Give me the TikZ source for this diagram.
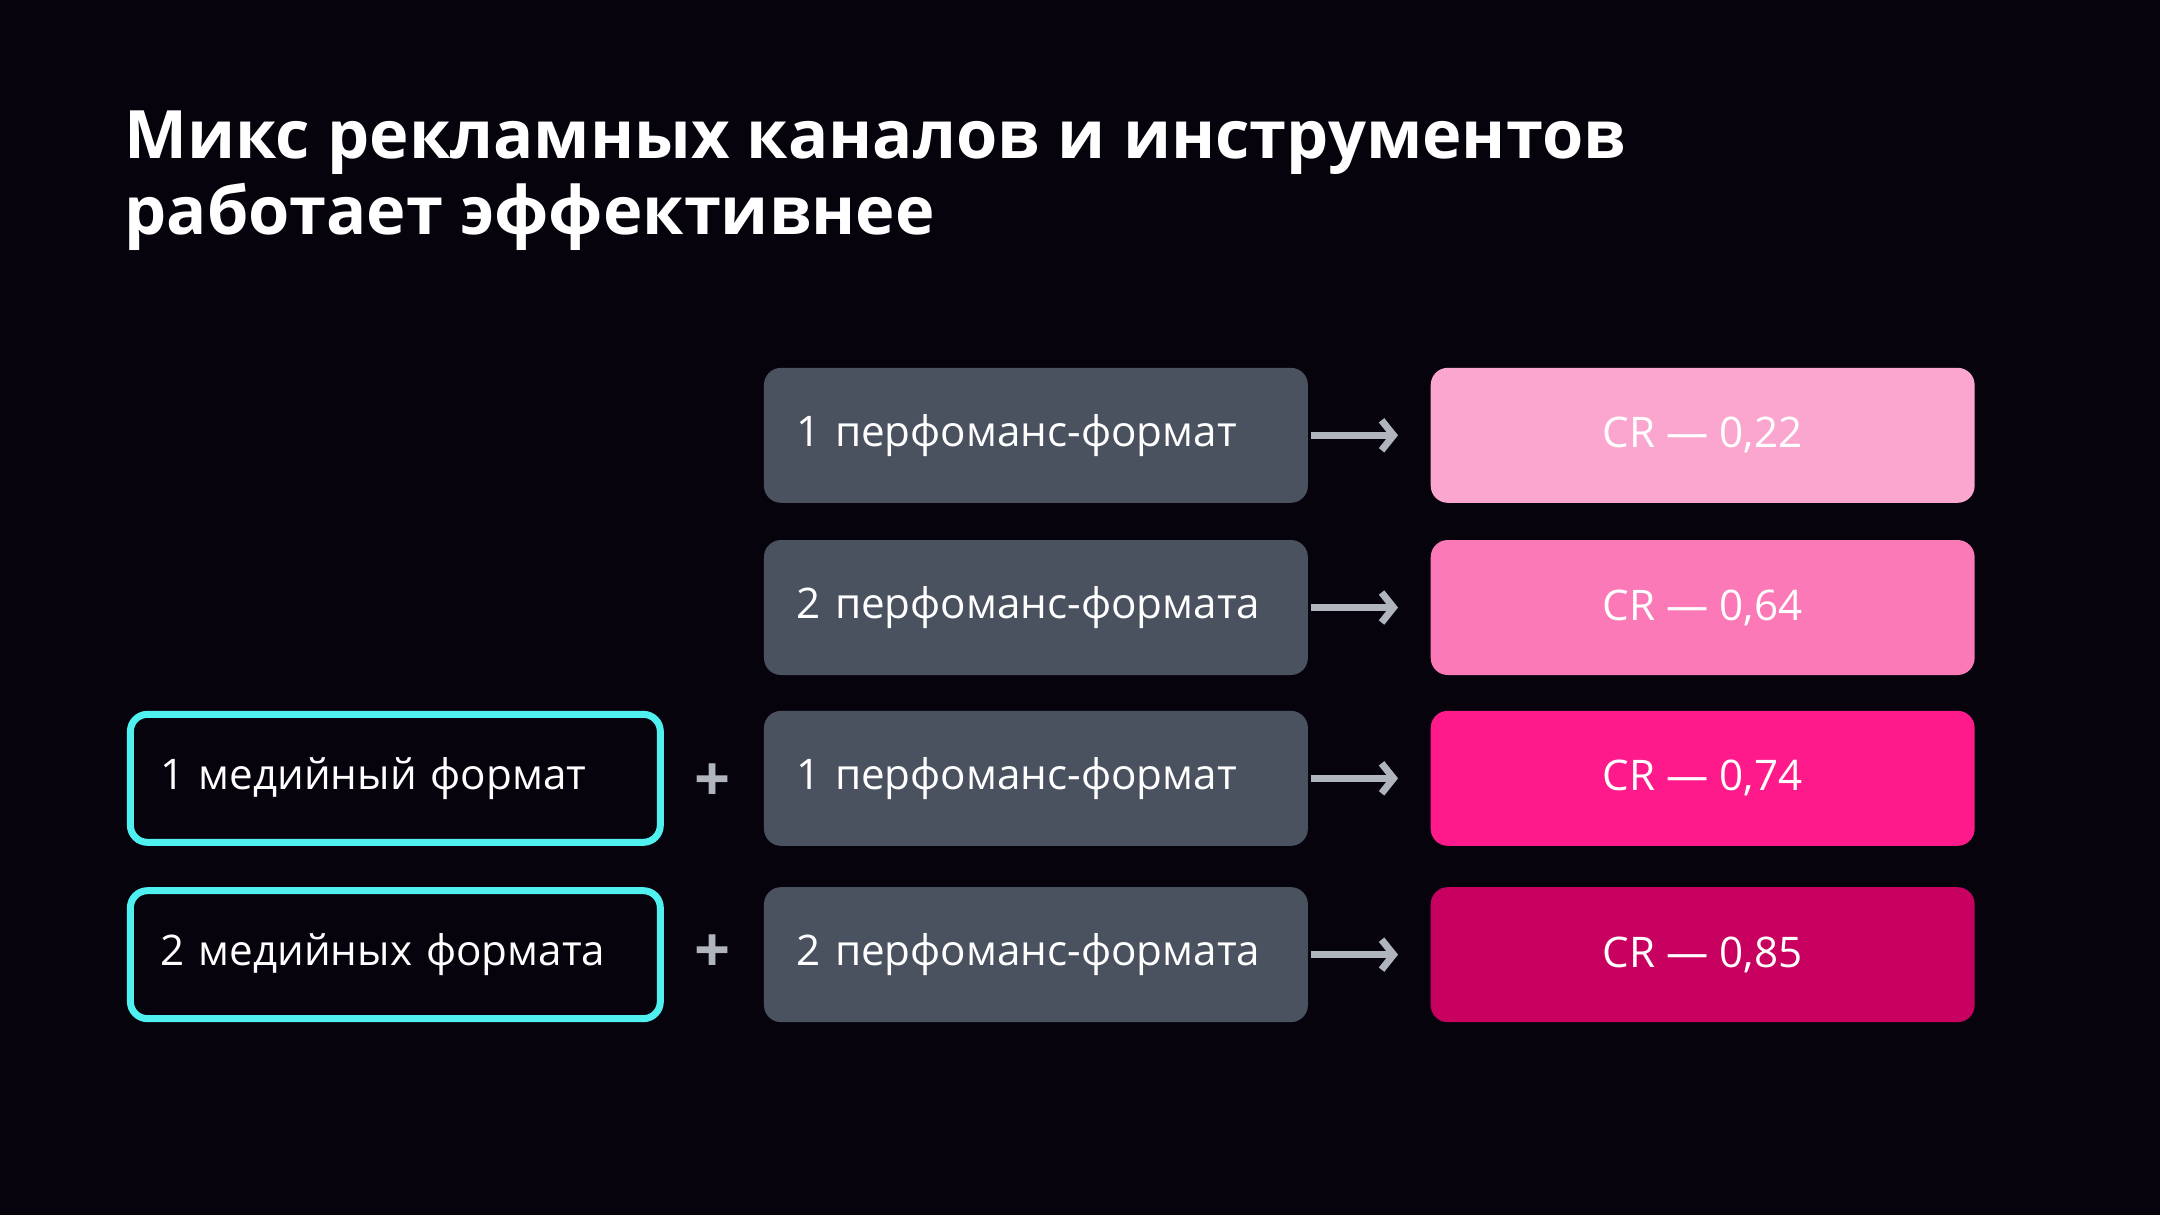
\documentclass[tikz,border=0pt]{standalone}
\usepackage{fontspec}
\setmainfont{Open Sans}
\usetikzlibrary{positioning,arrows.meta}
\definecolor{bgdark}{HTML}{07030D}
\definecolor{perfgray}{HTML}{4A5260}
\definecolor{arrowgray}{HTML}{B0B5BD}
\definecolor{mediacyan}{HTML}{4FF0F0}
\definecolor{crone}{HTML}{FBA6CF}
\definecolor{crtwo}{HTML}{FB79B6}
\definecolor{crthree}{HTML}{FE1A8A}
\definecolor{crfour}{HTML}{C8005F}
\tikzset{
  perfbox/.style={fill=perfgray, rounded corners=0.17cm, minimum height=1.35cm,
    text width=4.78cm, inner xsep=0.33cm, align=left, text=white, font=\fontsize{12}{14}\selectfont},
  crbox/.style={rounded corners=0.17cm, minimum height=1.35cm, minimum width=5.44cm,
    text=white, font=\fontsize{12}{14}\selectfont},
  mediabox/.style={draw=mediacyan, line width=0.07cm, rounded corners=0.17cm, minimum height=1.28cm,
    text width=4.7cm, inner xsep=0.3cm, align=left, text=white, font=\fontsize{12}{14}\selectfont},
  flow/.style={-{Straight Barb[length=0.12cm, width=0.3cm]}, arrowgray, line width=0.07cm},
  plus/.style={text=arrowgray, font=\bfseries\fontsize{18}{18}\selectfont}
}
\begin{document}
\begin{tikzpicture}[x=0.013776cm, y=-0.013776cm]
\fill[bgdark] (0,0) rectangle (1568,882);
% Title
\node[anchor=north west, align=left, text=white, font=\bfseries\fontsize{19}{21.5}\selectfont, inner sep=0]
  (title) at (90,80) {Микс рекламных каналов и инструментов\\работает эффективнее};

% Performance formats
\node[perfbox] (perf1) at (752,316) {1 перфоманс-формат};
\node[perfbox] (perf2) at (752,441) {2 перфоманс-формата};
\node[perfbox] (perf3) at (752,565) {1 перфоманс-формат};
\node[perfbox] (perf4) at (752,693) {2 перфоманс-формата};

% Conversion results
\node[crbox, fill=crone] (cr1) at (1236,316) {CR — 0,22};
\node[crbox, fill=crtwo] (cr2) at (1236,441) {CR — 0,64};
\node[crbox, fill=crthree] (cr3) at (1236,565) {CR — 0,74};
\node[crbox, fill=crfour] (cr4) at (1236,693) {CR — 0,85};

% Media formats
\node[mediabox] (media1) at (287,565) {1 медийный формат};
\node[mediabox] (media2) at (287,693) {2 медийных формата};
\node[plus] (plus1) at (517,568) {+};
\node[plus] (plus2) at (517,692) {+};

% Arrows
\foreach \i in {1,2,3,4}
  \draw[flow] ([xshift=0.02cm]perf\i.east) -- ([xshift=-0.32cm]cr\i.west);
\end{tikzpicture}
\end{document}
